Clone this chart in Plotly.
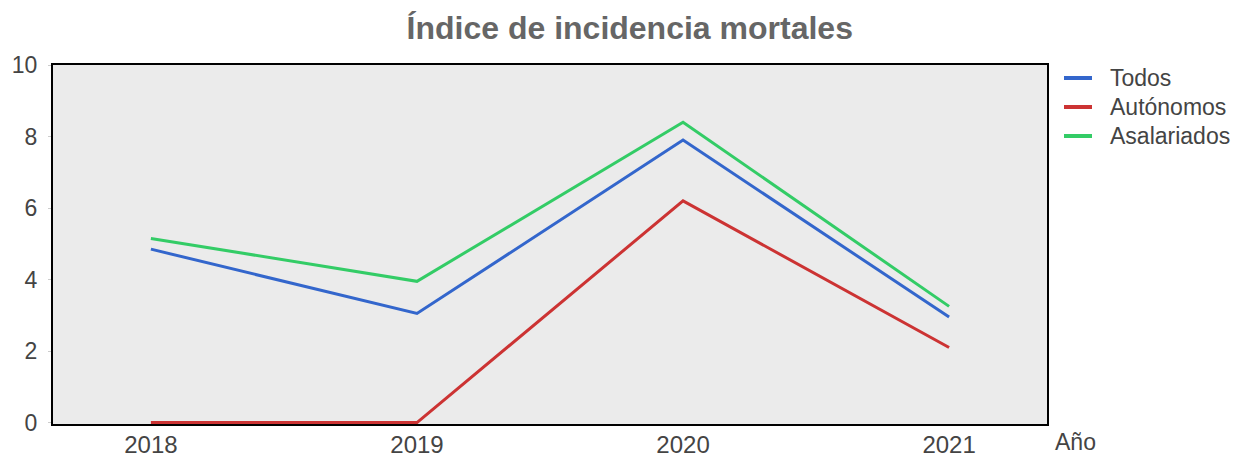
import plotly.graph_objects as go

years = [2018, 2019, 2020, 2021]
todos = [4.85, 3.05, 7.9, 2.95]
autonomos = [0, 0, 6.2, 2.1]
asalariados = [5.15, 3.95, 8.4, 3.25]
series_names = ["Todos", "Autónomos", "Asalariados"]
colors = ["#3366cc", "#cc3333", "#33cc66"]

fig = go.Figure()
for name, vals, c in zip(series_names, [todos, autonomos, asalariados], colors):
    fig.add_trace(go.Scatter(x=years, y=vals, mode="lines", name=name, cliponaxis=False,
                             line=dict(color=c, width=3), showlegend=False))

fig.update_layout(
    width=1247, height=457,
    margin=dict(l=53, r=200, t=65, b=33, autoexpand=False),
    paper_bgcolor="white",
    plot_bgcolor="#ebebeb",
    font=dict(family="Liberation Sans, Arial, sans-serif", size=24, color="#444444"),
    title=dict(text="<b>Índice de incidencia mortales</b>", x=0.505, xanchor="center",
               y=0.94, yanchor="middle",
               font=dict(size=32, color="#666666")),
    showlegend=False,
)

# manual legend (paper coordinates)
legend_y = [0.9638, 0.883, 0.8022]
for name, c, ly in zip(series_names, colors, legend_y):
    fig.add_shape(type="line", xref="paper", yref="paper", x0=1.0171, x1=1.0453,
                  y0=ly, y1=ly, line=dict(color=c, width=4))
    fig.add_annotation(text=name, xref="paper", yref="paper", x=1.0614, y=ly,
                       xanchor="left", yanchor="middle", showarrow=False,
                       font=dict(size=23, color="#444444"))

fig.update_xaxes(range=[2017.632, 2021.368], tickvals=years, ticktext=[str(y) for y in years],
                 showgrid=False, zeroline=False, showline=True, mirror=True,
                 linecolor="black", linewidth=2, ticks="", layer="below traces",
                 ticklabelstandoff=-2,
                 tickfont=dict(size=24, color="#444444"))
fig.update_yaxes(range=[-0.04, 10], tickvals=[0, 2, 4, 6, 8, 10], showgrid=False,
                 zeroline=False, showline=True,
                 mirror=True, linecolor="black", linewidth=2, ticks="outside",
                 ticklen=3, tickcolor="#cccccc", layer="below traces",
                 ticklabelstandoff=6,
                 tickfont=dict(size=23, color="#444444"))
fig.add_annotation(text="Año", xref="paper", yref="paper", x=1.006, y=0, xanchor="left",
                   yanchor="top", yshift=-3, showarrow=False,
                   font=dict(size=23, color="#444444"))
fig.write_html("out.html", post_script="document.body.style.margin='0';",
               config={"displayModeBar": False})
